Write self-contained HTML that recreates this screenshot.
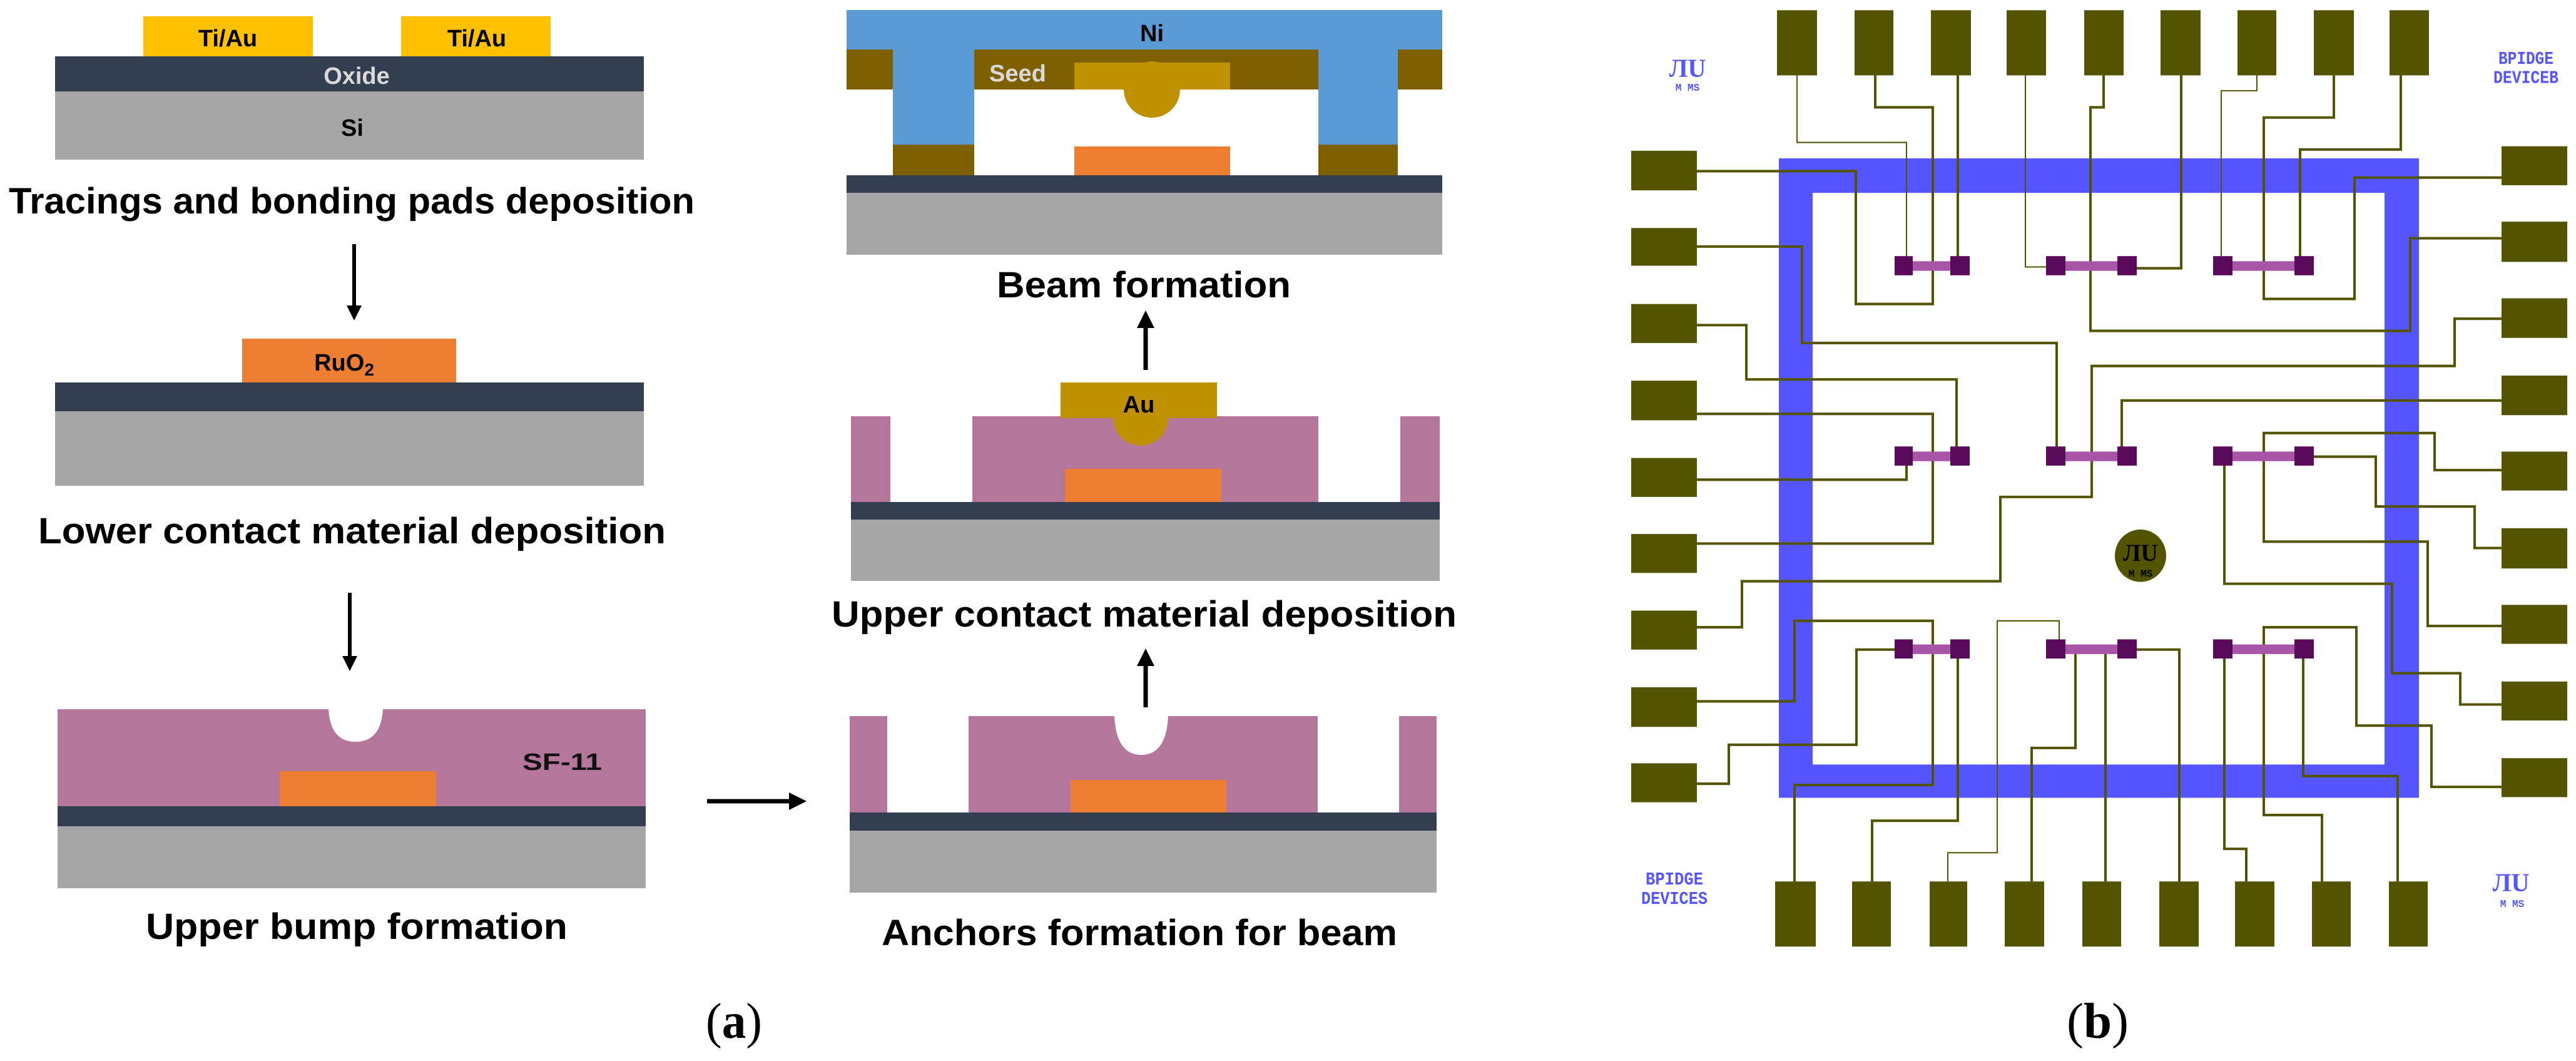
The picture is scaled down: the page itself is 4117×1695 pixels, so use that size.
<!DOCTYPE html>
<html><head><meta charset="utf-8"><style>
html,body{margin:0;padding:0;background:#fff;}
svg{display:block;}
.cap{font-family:"Liberation Sans",sans-serif;font-weight:bold;font-size:58px;fill:#000;}
.lbl{font-family:"Liberation Sans",sans-serif;font-weight:bold;font-size:38px;}
.tr{fill:none;stroke:#545400;stroke-width:4;}
.tn{fill:none;stroke:#545400;stroke-width:2;}
</style></head><body>
<svg width="4117" height="1695" viewBox="0 0 4117 1695" xmlns="http://www.w3.org/2000/svg">
<defs>
<marker id="ah" markerWidth="4" markerHeight="4" refX="2" refY="2" orient="auto" markerUnits="strokeWidth"><path d="M0,0 L4,2 L0,4 z" fill="#000"/></marker>
</defs>
<!-- Panel 1 -->
<rect x="229" y="26" width="271" height="64" fill="#ffc000"/>
<rect x="641" y="26" width="239" height="64" fill="#ffc000"/>
<rect x="88" y="90" width="941" height="56" fill="#333f50"/>
<rect x="88" y="146" width="941" height="109" fill="#a6a6a6"/>
<text class="lbl" x="364" y="74" text-anchor="middle" font-size="42">Ti/Au</text>
<text class="lbl" x="762" y="74" text-anchor="middle" font-size="42">Ti/Au</text>
<text class="lbl" x="570" y="134" text-anchor="middle" fill="#d9d9d9" font-size="42">Oxide</text>
<text class="lbl" x="563" y="217" text-anchor="middle" font-size="42">Si</text>
<text class="cap" x="14" y="341" textLength="1096" lengthAdjust="spacingAndGlyphs">Tracings and bonding pads deposition</text>
<line x1="566" y1="390" x2="566" y2="500" stroke="#000" stroke-width="6" marker-end="url(#ah)"/>
<!-- Panel 2 -->
<rect x="387" y="541" width="342" height="70" fill="#ed7d31"/>
<rect x="88" y="611" width="941" height="46" fill="#333f50"/>
<rect x="88" y="657" width="941" height="119" fill="#a6a6a6"/>
<text class="lbl" x="550" y="592" text-anchor="middle" font-size="42">RuO<tspan font-size="28" dy="8">2</tspan></text>
<text class="cap" x="61" y="868" textLength="1003" lengthAdjust="spacingAndGlyphs">Lower contact material deposition</text>
<line x1="559" y1="947" x2="559" y2="1060" stroke="#000" stroke-width="6" marker-end="url(#ah)"/>
<!-- Panel 3 -->
<rect x="92" y="1133" width="940" height="155" fill="#b4769a"/>
<path d="M525,1133 Q528,1185 568,1185 Q609,1185 612,1133 z" fill="#fff"/>
<rect x="447" y="1232" width="250" height="56" fill="#ed7d31"/>
<rect x="92" y="1288" width="940" height="32" fill="#333f50"/>
<rect x="92" y="1320" width="940" height="99" fill="#a6a6a6"/>
<text class="lbl" x="835" y="1230" textLength="127" lengthAdjust="spacingAndGlyphs" fill="#111" font-size="44">SF-11</text>
<text class="cap" x="233" y="1500" textLength="674" lengthAdjust="spacingAndGlyphs">Upper bump formation</text>
<line x1="1130" y1="1280" x2="1275" y2="1280" stroke="#000" stroke-width="7" marker-end="url(#ah)"/>
<!-- Panel 4 anchors -->
<rect x="1358" y="1144" width="60" height="154" fill="#b4769a"/>
<rect x="1548" y="1144" width="558" height="154" fill="#b4769a"/>
<rect x="2236" y="1144" width="60" height="154" fill="#b4769a"/>
<path d="M1781,1144 Q1784,1206 1824,1206 Q1864,1206 1867,1144 z" fill="#fff"/>
<rect x="1711" y="1246" width="249" height="52" fill="#ed7d31"/>
<rect x="1358" y="1298" width="938" height="29" fill="#333f50"/>
<rect x="1358" y="1327" width="938" height="99" fill="#a6a6a6"/>
<text class="cap" x="1409" y="1510" textLength="824" lengthAdjust="spacingAndGlyphs">Anchors formation for beam</text>
<line x1="1831" y1="1130" x2="1831" y2="1050" stroke="#000" stroke-width="7" marker-end="url(#ah)"/>
<!-- Panel 5 upper contact -->
<rect x="1360" y="665" width="63" height="137" fill="#b4769a"/>
<rect x="1554" y="665" width="553" height="137" fill="#b4769a"/>
<rect x="2238" y="665" width="63" height="137" fill="#b4769a"/>
<rect x="1702" y="749" width="250" height="53" fill="#ed7d31"/>
<circle cx="1823" cy="668" r="44" fill="#bf9000"/>
<rect x="1695" y="611" width="250" height="57" fill="#bf9000"/>
<rect x="1360" y="802" width="941" height="28" fill="#333f50"/>
<rect x="1360" y="830" width="941" height="98" fill="#a6a6a6"/>
<text class="lbl" x="1820" y="659" text-anchor="middle" font-size="44">Au</text>
<text class="cap" x="1329" y="1001" textLength="999" lengthAdjust="spacingAndGlyphs">Upper contact material deposition</text>
<line x1="1831" y1="591" x2="1831" y2="510" stroke="#000" stroke-width="7" marker-end="url(#ah)"/>
<!-- Panel 6 beam -->
<rect x="1353" y="16" width="952" height="63" fill="#5b9bd5"/>
<rect x="1353" y="79" width="952" height="64" fill="#7f6000"/>
<rect x="1427" y="79" width="130" height="152" fill="#5b9bd5"/>
<rect x="2107" y="79" width="127" height="152" fill="#5b9bd5"/>
<rect x="1427" y="231" width="130" height="49" fill="#7f6000"/>
<rect x="2107" y="231" width="127" height="49" fill="#7f6000"/>
<rect x="1557" y="143" width="550" height="137" fill="#fff"/>
<circle cx="1841" cy="143" r="45" fill="#bf9000"/>
<rect x="1717" y="100" width="249" height="43" fill="#bf9000"/>
<rect x="1717" y="234" width="249" height="46" fill="#ed7d31"/>
<rect x="1353" y="280" width="952" height="28" fill="#333f50"/>
<rect x="1353" y="308" width="952" height="99" fill="#a6a6a6"/>
<text class="lbl" x="1841" y="66" text-anchor="middle" font-size="42">Ni</text>
<text class="lbl" x="1581" y="130" fill="#d9d9d9" font-size="42">Seed</text>
<text class="cap" x="1593" y="475" textLength="470" lengthAdjust="spacingAndGlyphs">Beam formation</text>
<text x="1128" y="1658" font-family="Liberation Serif,serif" font-size="80" textLength="90" lengthAdjust="spacingAndGlyphs">(<tspan font-weight="bold">a</tspan>)</text>
<text x="3303" y="1658" font-family="Liberation Serif,serif" font-size="80" textLength="99" lengthAdjust="spacingAndGlyphs">(<tspan font-weight="bold">b</tspan>)</text>

<!-- Panel b -->
<g transform="translate(2550,0) scale(1,1.0204)">
<path d="M293,248 H1316 V1249 H293 Z M347,302 V1197 H1261 V302 Z" fill="#5555ff" fill-rule="evenodd"/>
<g fill="#545400">
<rect x="290" y="16" width="64" height="102"/><rect x="414" y="16" width="62" height="102"/><rect x="536" y="16" width="64" height="102"/><rect x="657" y="16" width="63" height="102"/><rect x="781" y="16" width="63" height="102"/><rect x="903" y="16" width="64" height="102"/><rect x="1026" y="16" width="62" height="102"/><rect x="1148" y="16" width="64" height="102"/><rect x="1269" y="16" width="63" height="102"/>
<rect x="287" y="1380" width="65" height="102"/><rect x="410" y="1380" width="62" height="102"/><rect x="534" y="1380" width="60" height="102"/><rect x="654" y="1380" width="63" height="102"/><rect x="778" y="1380" width="62" height="102"/><rect x="901" y="1380" width="63" height="102"/><rect x="1022" y="1380" width="63" height="102"/><rect x="1145" y="1380" width="62" height="102"/><rect x="1268" y="1380" width="62" height="102"/>
<rect x="57" y="236" width="105" height="62"/><rect x="57" y="357" width="105" height="59"/><rect x="57" y="476" width="105" height="61"/><rect x="57" y="596" width="105" height="62"/><rect x="57" y="717" width="105" height="61"/><rect x="57" y="836" width="105" height="61"/><rect x="57" y="956" width="105" height="61"/><rect x="57" y="1076" width="105" height="62"/><rect x="57" y="1195" width="105" height="61"/>
<rect x="1448" y="229" width="105" height="61"/><rect x="1448" y="347" width="105" height="63"/><rect x="1448" y="467" width="105" height="62"/><rect x="1448" y="588" width="105" height="62"/><rect x="1448" y="707" width="105" height="61"/><rect x="1448" y="827" width="105" height="63"/><rect x="1448" y="947" width="105" height="61"/><rect x="1448" y="1067" width="105" height="61"/><rect x="1448" y="1187" width="105" height="61"/>
</g>
<!-- traces -->
<polyline class="tn" points="322,118 322,223 497,223 497,416"/>
<polyline class="tr" points="447,118 447,168 539,168 539,476 416,476 416,268 162,268"/>
<polyline class="tr" points="579,118 579,416"/>
<polyline class="tn" points="687,118 687,418 735,418"/>
<polyline class="tr" points="812,118 812,168 791,168 791,518 1302,518 1302,373 1448,373"/>
<polyline class="tr" points="936,118 936,420 848,420"/>
<polyline class="tn" points="1057,118 1057,142 1000,142 1000,416"/>
<polyline class="tr" points="1180,118 1180,184 1068,184 1068,468 1213,468 1213,278 1448,278"/>
<polyline class="tr" points="1287,118 1287,234 1126,234 1126,416"/>
<polyline class="tr" points="162,386 330,386 330,537 737,537 737,714"/>
<polyline class="tr" points="162,509 241,509 241,594 577,594 577,714"/>
<polyline class="tr" points="162,648 539,648 539,851 162,851"/>
<polyline class="tr" points="162,751 497,751 497,714"/>
<polyline class="tr" points="162,982 234,982 234,910 647,910 647,778 793,778 793,573 1373,573 1373,499 1448,499"/>
<polyline class="tr" points="162,1098 318,1098 318,972 539,972 539,1229 318,1229 318,1380"/>
<polyline class="tr" points="162,1227 213,1227 213,1166 417,1166 417,1017 493,1017"/>
<polyline class="tr" points="841,714 841,627 1448,627"/>
<polyline class="tr" points="1448,736 1341,736 1341,678 1068,678 1068,848 1330,848 1330,980 1448,980"/>
<polyline class="tr" points="1448,858 1405,858 1405,793 1247,793 1247,715 1133,715"/>
<polyline class="tr" points="1448,1103 1382,1103 1382,1054 1273,1054 1273,914 1005,914 1005,714"/>
<polyline class="tr" points="1448,1232 1336,1232 1336,1136 1216,1136 1216,982 1068,982 1068,1276 1161,1276 1161,1380"/>
<polyline class="tr" points="442,1380 442,1285 579,1285 579,1017"/>
<polyline class="tn" points="563,1380 563,1335 642,1335 642,972 741,972 741,1017"/>
<polyline class="tr" points="697,1380 697,1171 767,1171 767,1017"/>
<polyline class="tr" points="815,1380 815,1017"/>
<polyline class="tr" points="933,1380 933,1017 848,1017"/>
<polyline class="tr" points="1040,1380 1040,1329 1005,1329 1005,1017"/>
<polyline class="tr" points="1282,1380 1282,1215 1131,1215 1131,1017"/>
<!-- purple bars -->
<g fill="#a855a8">
<rect x="478" y="409" width="120" height="15"/><rect x="720" y="409" width="145" height="15"/><rect x="987" y="409" width="161" height="15"/>
<rect x="478" y="707" width="120" height="15"/><rect x="720" y="707" width="145" height="15"/><rect x="987" y="707" width="161" height="15"/>
<rect x="478" y="1009" width="120" height="15"/><rect x="720" y="1009" width="145" height="15"/><rect x="987" y="1009" width="161" height="15"/>
</g>
<g fill="#5a0a5a">
<rect x="478" y="401" width="29" height="30"/><rect x="567" y="401" width="31" height="30"/><rect x="720" y="401" width="31" height="30"/><rect x="834" y="401" width="31" height="30"/><rect x="987" y="401" width="31" height="30"/><rect x="1117" y="401" width="31" height="30"/>
<rect x="478" y="699" width="29" height="30"/><rect x="567" y="699" width="31" height="30"/><rect x="720" y="699" width="31" height="30"/><rect x="834" y="699" width="31" height="30"/><rect x="987" y="699" width="31" height="30"/><rect x="1117" y="699" width="31" height="30"/>
<rect x="478" y="1001" width="29" height="30"/><rect x="567" y="1001" width="31" height="30"/><rect x="720" y="1001" width="31" height="30"/><rect x="834" y="1001" width="31" height="30"/><rect x="987" y="1001" width="31" height="30"/><rect x="1117" y="1001" width="31" height="30"/>
</g>
<circle cx="871" cy="870" r="41" fill="#545400"/>
<text x="871" y="878" text-anchor="middle" font-family="Liberation Serif,serif" font-weight="bold" font-size="38" fill="#000">ЛU</text>
<text x="871" y="903" text-anchor="middle" font-family="Liberation Mono,monospace" font-weight="bold" font-size="16" fill="#000">M MS</text>
<g fill="#5555ff" font-family="Liberation Mono,monospace" font-weight="bold">
<text x="147" y="120" text-anchor="middle" font-family="Liberation Serif,serif" font-size="40">ЛU</text>
<text x="147" y="142" text-anchor="middle" font-size="16">M MS</text>
<text x="1487" y="100" text-anchor="middle" font-size="28" textLength="88" lengthAdjust="spacingAndGlyphs">BPIDGE</text>
<text x="1487" y="130" text-anchor="middle" font-size="28" textLength="104" lengthAdjust="spacingAndGlyphs">DEVICEB</text>
<text x="126" y="1385" text-anchor="middle" font-size="28" textLength="92" lengthAdjust="spacingAndGlyphs">BPIDGE</text>
<text x="126" y="1415" text-anchor="middle" font-size="28" textLength="106" lengthAdjust="spacingAndGlyphs">DEVICES</text>
<text x="1463" y="1395" text-anchor="middle" font-family="Liberation Serif,serif" font-size="40">ЛU</text>
<text x="1465" y="1420" text-anchor="middle" font-size="16">M MS</text>
</g>
</g>
</svg>
</body></html>
